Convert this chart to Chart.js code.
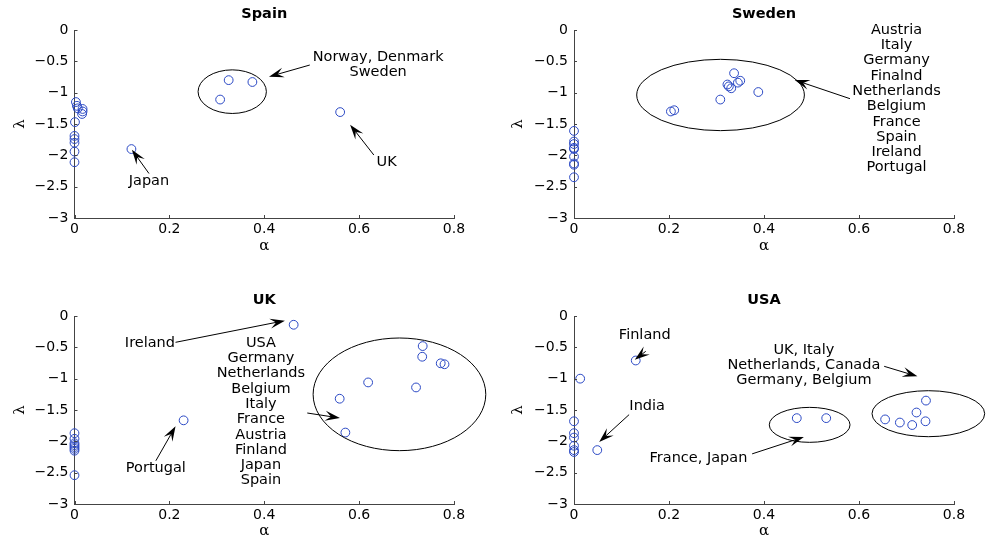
<!DOCTYPE html>
<html>
<head>
<meta charset="utf-8">
<script src="https://cdn.jsdelivr.net/npm/chart.js@4/dist/chart.umd.min.js"></script>
<style>
  body { margin: 0; background: #fff; }
  #wrap { position: relative; width: 988px; height: 542px; }
  canvas { position: absolute; }
</style>
</head>
<body>
<div id="wrap">
  <canvas id="spainChart" width="494" height="271" style="left:0;top:0"></canvas>
  <canvas id="swedenChart" width="494" height="271" style="left:494px;top:0"></canvas>
  <canvas id="ukChart" width="494" height="271" style="left:0;top:271px"></canvas>
  <canvas id="usaChart" width="494" height="271" style="left:494px;top:271px"></canvas>
</div>
<script>
//valores (alpha en x, lambda en y)
const xTicks = [0, 0.2, 0.4, 0.6, 0.8]
const yTicks = [0, -0.5, -1, -1.5, -2, -2.5, -3]

const spainAlpha  = [0.325, 0.375, 0.307, 0.56, 0.12, 0.003, 0.005, 0.007, 0.017, 0.017, 0.016, 0.001, 0, 0, 0, 0, 0]
const spainLambda = [-0.80, -0.83, -1.11, -1.31, -1.90, -1.15, -1.21, -1.25, -1.26, -1.30, -1.34, -1.47, -1.69, -1.74, -1.80, -1.94, -2.11]

const swedenAlpha  = [0.337, 0.345, 0.350, 0.323, 0.326, 0.331, 0.388, 0.308, 0.204, 0.211, 0, 0, 0, 0, 0, 0, 0, 0, 0]
const swedenLambda = [-0.69, -0.84, -0.81, -0.87, -0.90, -0.93, -0.99, -1.11, -1.30, -1.28, -1.61, -1.78, -1.82, -1.88, -1.90, -2.02, -2.13, -2.15, -2.35]

const ukAlpha  = [0.462, 0.734, 0.733, 0.772, 0.78, 0.619, 0.72, 0.559, 0.571, 0.23, 0, 0, 0, 0, 0, 0, 0, 0]
const ukLambda = [-0.14, -0.48, -0.65, -0.755, -0.77, -1.06, -1.14, -1.32, -1.86, -1.665, -1.87, -1.96, -2.03, -2.06, -2.09, -2.12, -2.15, -2.54]

const usaAlpha  = [0.13, 0.013, 0.049, 0.469, 0.531, 0.741, 0.721, 0.655, 0.686, 0.712, 0.74, 0, 0, 0, 0, 0, 0]
const usaLambda = [-0.71, -1.0, -2.14, -1.63, -1.63, -1.35, -1.54, -1.65, -1.70, -1.74, -1.68, -1.68, -1.87, -1.94, -2.07, -2.14, -2.17]

//anotaciones en coordenadas de datos
const spainNotes = {
    labels: [
        { x: 0.64, y: -0.436, text: 'Norway, Denmark\nSweden' },
        { x: 0.157, y: -2.42, text: 'Japan' },
        { x: 0.658, y: -2.11, text: 'UK' }
    ],
    arrows: [
        [[0.496, -0.559], [0.41, -0.745]],
        [[0.157, -2.29], [0.121, -1.91]],
        [[0.631, -1.995], [0.581, -1.51]]
    ],
    ellipses: [{ cx: 0.3325, cy: -0.984, rx: 0.072, ry: 0.348 }]
}

const swedenNotes = {
    labels: [
        { x: 0.679, y: 0, text: 'Austria\nItaly\nGermany\nFinalnd\nNetherlands\nBelgium\nFrance\nSpain\nIreland\nPortugal' }
    ],
    arrows: [[[0.581, -1.096], [0.4646, -0.798]]],
    ellipses: [{ cx: 0.3085, cy: -1.037, rx: 0.1765, ry: 0.569 }]
}

const ukNotes = {
    labels: [
        { x: 0.159, y: -0.43, text: 'Ireland' },
        { x: 0.393, y: -0.43, text: 'USA\nGermany\nNetherlands\nBelgium\nItaly\nFrance\nAustria\nFinland\nJapan\nSpain' },
        { x: 0.1715, y: -2.43, text: 'Portugal' }
    ],
    arrows: [
        [[0.213, -0.42], [0.4436, -0.074]],
        [[0.4907, -1.548], [0.5596, -1.628]],
        [[0.1715, -2.31], [0.213, -1.76]]
    ],
    ellipses: [{ cx: 0.685, cy: -1.25, rx: 0.182, ry: 0.899 }]
}

const usaNotes = {
    labels: [
        { x: 0.149, y: -0.30, text: 'Finland' },
        { x: 0.154, y: -1.447, text: 'India' },
        { x: 0.262, y: -2.277, text: 'France, Japan' },
        { x: 0.484, y: -0.543, text: 'UK, Italy\nNetherlands, Canada\nGermany, Belgium' }
    ],
    arrows: [
        [[0.151, -0.564], [0.128, -0.697]],
        [[0.116, -1.574], [0.053, -2.01]],
        [[0.375, -2.20], [0.484, -1.93]],
        [[0.653, -0.803], [0.723, -0.963]]
    ],
    ellipses: [
        { cx: 0.4961, cy: -1.737, rx: 0.085, ry: 0.279 },
        { cx: 0.746, cy: -1.559, rx: 0.1186, ry: 0.367 }
    ]
}

//valores por defecto
Chart.defaults.font.family = 'DejaVu Sans'
Chart.defaults.font.size = 14
Chart.defaults.color = '#000'

const fmt = v => String(Math.round(v * 10) / 10).replace('-', '\u2212')

//punta de flecha con muesca, estilo matlab
const drawArrow = (ctx, x1, y1, x2, y2) => {
    const ang = Math.atan2(y2 - y1, x2 - x1)
    const len = 15, half = 5
    ctx.beginPath()
    ctx.moveTo(x1, y1)
    ctx.lineTo(x2 - Math.cos(ang) * len * 0.6, y2 - Math.sin(ang) * len * 0.6)
    ctx.stroke()
    ctx.save()
    ctx.translate(x2, y2)
    ctx.rotate(ang)
    ctx.beginPath()
    ctx.moveTo(0, 0)
    ctx.lineTo(-len, -half)
    ctx.lineTo(-len * 0.6, 0)
    ctx.lineTo(-len, half)
    ctx.closePath()
    ctx.fill()
    ctx.restore()
}

//plugin que dibuja titulo, nombres de ejes, ticks hacia dentro y anotaciones
const notesPlugin = {
    id: 'notes',
    afterDraw(chart, args, opts) {
        const { ctx, chartArea: a, scales: { x, y } } = chart
        ctx.save()
        ctx.strokeStyle = '#444'
        ctx.lineWidth = 1
        ctx.beginPath()
        xTicks.forEach(v => {
            const px = Math.round(x.getPixelForValue(v)) + 0.5
            ctx.moveTo(px, a.bottom); ctx.lineTo(px, a.bottom - 3)
        })
        yTicks.forEach(v => {
            const py = Math.round(y.getPixelForValue(v)) + 0.5
            ctx.moveTo(a.left, py); ctx.lineTo(a.left + 3, py)
        })
        ctx.stroke()

        ctx.fillStyle = '#000'
        ctx.textAlign = 'center'
        ctx.textBaseline = 'middle'
        ctx.font = 'bold 14.5px "DejaVu Sans"'
        ctx.fillText(opts.title, (a.left + a.right) / 2, opts.titleY)
        ctx.font = '15px "DejaVu Serif"'
        ctx.fillText('\u03b1', (a.left + a.right) / 2, opts.alphaY)
        ctx.save()
        ctx.translate(opts.lambdaX, (a.top + a.bottom) / 2)
        ctx.rotate(-Math.PI / 2)
        ctx.fillText('\u03bb', 0, 0)
        ctx.restore()

        const n = opts.notes
        ctx.strokeStyle = '#000'
        n.ellipses.forEach(e => {
            const cx = x.getPixelForValue(e.cx), cy = y.getPixelForValue(e.cy)
            const rx = x.getPixelForValue(e.cx + e.rx) - cx
            const ry = y.getPixelForValue(e.cy - e.ry) - cy
            ctx.beginPath()
            ctx.ellipse(cx, cy, rx, ry, 0, 0, Math.PI * 2)
            ctx.stroke()
        })
        n.arrows.forEach(([p, q]) => {
            drawArrow(ctx, x.getPixelForValue(p[0]), y.getPixelForValue(p[1]),
                x.getPixelForValue(q[0]), y.getPixelForValue(q[1]))
        })
        ctx.font = '14.5px "DejaVu Sans"'
        n.labels.forEach(l => {
            const px = x.getPixelForValue(l.x), py = y.getPixelForValue(l.y)
            l.text.split('\n').forEach((t, i) => ctx.fillText(t, px, py + i * 15.3))
        })
        ctx.restore()
    }
}

//box: relleno para fijar el area del grafico igual que la figura
const renderPanel = (id, title, alpha, lambda, notes, box) => {
    const data = {
        datasets: [{
            data: alpha.map((a, i) => ({ x: a, y: lambda[i] })),
            borderColor: '#2a48c4',
            backgroundColor: 'rgba(0,0,0,0)',
            borderWidth: 1,
            pointRadius: 4.4,
            clip: false
        }]
    }
    const options = {
        responsive: false,
        animation: false,
        layout: { padding: { top: box.top, right: box.right, left: 0, bottom: 0 } },
        plugins: {
            legend: { display: false },
            tooltip: { enabled: false },
            notes: { title, notes, titleY: box.titleY, alphaY: box.alphaY, lambdaX: box.lambdaX }
        },
        scales: {
            x: {
                type: 'linear', min: 0, max: 0.8,
                afterBuildTicks: s => { s.ticks = xTicks.map(v => ({ value: v })) },
                afterFit: s => { s.height = box.xh },
                ticks: { padding: 3, callback: fmt, maxRotation: 0 },
                grid: { drawOnChartArea: false, drawTicks: false },
                border: { color: '#444' }
            },
            y: {
                type: 'linear', min: -3, max: 0,
                afterBuildTicks: s => { s.ticks = yTicks.map(v => ({ value: v })) },
                afterFit: s => { s.width = box.yw },
                ticks: { padding: 6, callback: fmt },
                grid: { drawOnChartArea: false, drawTicks: false },
                border: { color: '#444' }
            }
        }
    }
    new Chart(id, { type: 'scatter', data, options, plugins: [notesPlugin] })
}

const printCharts = () => {
    renderPanel('spainChart', 'Spain', spainAlpha, spainLambda, spainNotes,
        { top: 30, right: 40, yw: 74.5, xh: 53, titleY: 14, alphaY: 246, lambdaX: 20 })
    renderPanel('swedenChart', 'Sweden', swedenAlpha, swedenLambda, swedenNotes,
        { top: 30, right: 34, yw: 80, xh: 53, titleY: 14, alphaY: 246, lambdaX: 24 })
    renderPanel('ukChart', 'UK', ukAlpha, ukLambda, ukNotes,
        { top: 45, right: 40, yw: 74.5, xh: 38, titleY: 29, alphaY: 260, lambdaX: 20 })
    renderPanel('usaChart', 'USA', usaAlpha, usaLambda, usaNotes,
        { top: 45, right: 34, yw: 80, xh: 38, titleY: 29, alphaY: 260, lambdaX: 24 })
}

printCharts()
</script>
</body>
</html>
